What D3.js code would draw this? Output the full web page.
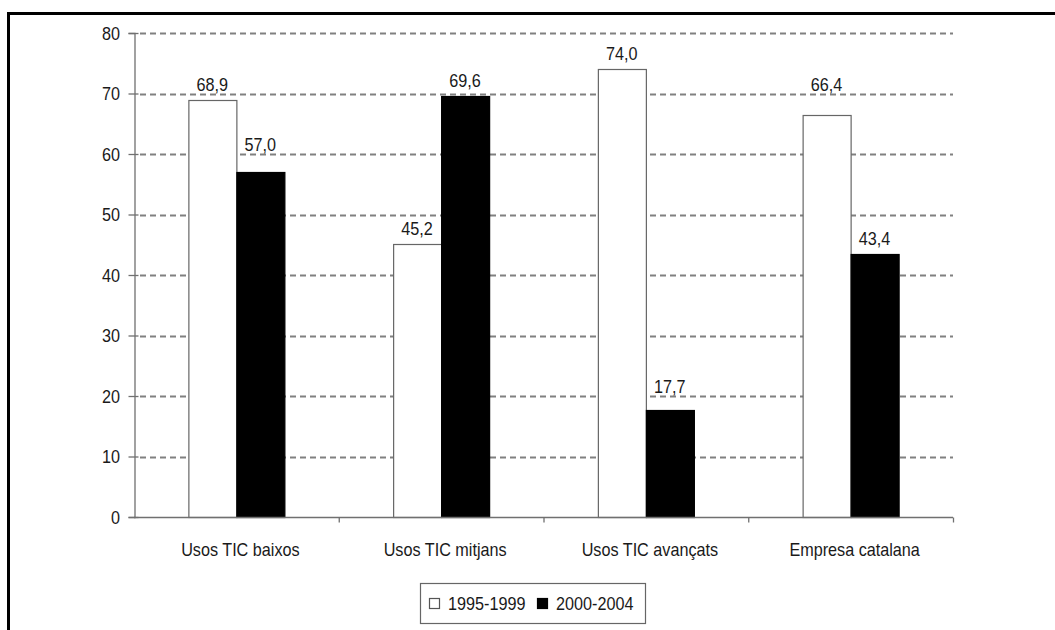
<!DOCTYPE html>
<html>
<head>
<meta charset="utf-8">
<script src="https://cdn.jsdelivr.net/npm/d3@7"></script>
<style>
  html, body { margin: 0; padding: 0; background: #fff; }
  svg text { font-family: "Liberation Sans", Arial, sans-serif; fill: #1a1a1a; }
</style>
</head>
<body>
<svg id="chart" width="1055" height="630"></svg>
<script>
// Percentages per group of firms, two periods
const categories = ["Usos TIC baixos", "Usos TIC mitjans", "Usos TIC avançats", "Empresa catalana"];
const seriesNames = ["1995-1999", "2000-2004"];
const values1995 = [68.9, 45.2, 74.0, 66.4];
const values2000 = [57.0, 69.6, 17.7, 43.4];
const yTicks = [0, 10, 20, 30, 40, 50, 60, 70, 80];

const fmt = v => v.toFixed(1).replace(".", ",");
const fills = ["#ffffff", "#000000"];
const FONT = 18, SX = 0.9;   // condensed lettering

const svg = d3.select("#chart");
const margin = { left: 134, right: 1055 - 953, top: 33, bottom: 630 - 517 };
const width = 1055, height = 630;

// Condensed text helper: a group carries the position and the horizontal squeeze
function label(parent, x, yPos, txt, anchor) {
  const g = parent.append("g").attr("transform", `translate(${x},${yPos}) scale(${SX},1)`);
  g.append("text").attr("text-anchor", anchor || "middle").attr("font-size", FONT).text(txt);
  return g;
}

// Frame: heavy rule along the top and left edges
svg.append("line").attr("x1", 7).attr("x2", width).attr("y1", 13.5).attr("y2", 13.5)
  .attr("stroke", "#000").attr("stroke-width", 3);
svg.append("line").attr("x1", 8.5).attr("x2", 8.5).attr("y1", 12).attr("y2", height)
  .attr("stroke", "#000").attr("stroke-width", 3);

const x0 = d3.scaleBand().domain(categories).range([margin.left, width - margin.right]);
const x1 = d3.scaleBand().domain(seriesNames).range([0, 96]);
const y = d3.scaleLinear().domain([0, 80]).range([height - margin.bottom, margin.top]);
const gridY = d => Math.round(y(d)) + 0.5;

// Dashed gridlines
svg.append("g").selectAll("line").data(yTicks.filter(t => t > 0)).join("line")
  .attr("x1", margin.left + 6).attr("x2", width - margin.right)
  .attr("y1", gridY).attr("y2", gridY)
  .attr("stroke", "#808080").attr("stroke-width", 2).attr("stroke-dasharray", "6,4");

// Bars
const rows = categories.map((c, i) => [
  { s: seriesNames[0], v: values1995[i] },
  { s: seriesNames[1], v: values2000[i] }
]);

const groups = svg.append("g").selectAll("g").data(categories).join("g")
  .attr("transform", d => `translate(${x0(d) + x0.bandwidth() / 2 - 48},0)`);

groups.selectAll("rect").data((d, i) => rows[i]).join("rect")
  .attr("x", d => x1(d.s) + 0.5)
  .attr("width", x1.bandwidth())
  .attr("y", d => Math.round(y(d.v)) + 0.5)
  .attr("height", d => y(0) - Math.round(y(d.v)))
  .attr("fill", (d, j) => fills[j])
  .attr("stroke", (d, j) => j === 0 ? "#666" : "#000")
  .attr("stroke-width", 1.2);

// Value labels sit above the bar; when a label would straddle a gridline it is lifted above it
function labelBaseline(v) {
  let base = y(v) - 9;
  yTicks.forEach(t => {
    const gy = gridY(t);
    if (gy >= base - 14 && gy <= base + 1) base = gy - 4;
  });
  return base;
}
groups.each(function (d, i) {
  const g = d3.select(this);
  rows[i].forEach(r => label(g, x1(r.s) + x1.bandwidth() / 2, labelBaseline(r.v), fmt(r.v)));
});

// Y axis
const yAxis = svg.append("g").attr("transform", `translate(${margin.left + 0.5},0)`)
  .call(d3.axisLeft(y).tickValues(yTicks).tickSize(6).tickFormat(""));
yAxis.attr("font-family", null);
yAxis.select(".domain").attr("stroke", "#707070").attr("stroke-width", 1.3);
yAxis.selectAll(".tick line").attr("stroke", "#707070").attr("stroke-width", 1.3).attr("x1", 4).attr("x2", -6);
yTicks.forEach(t => label(svg, margin.left - 14, y(t) + 6.5, String(t), "end"));

// X axis with ticks on category boundaries
const xAxisG = svg.append("g").attr("transform", `translate(0,${y(0) + 0.5})`);
xAxisG.append("line").attr("x1", margin.left).attr("x2", width - margin.right)
  .attr("stroke", "#707070").attr("stroke-width", 1.3);
const bounds = categories.map(c => x0(c) + x0.bandwidth());
xAxisG.selectAll("line.tk").data(bounds).join("line").attr("class", "tk")
  .attr("x1", d => d + 0.5).attr("x2", d => d + 0.5).attr("y1", 0).attr("y2", 5)
  .attr("stroke", "#707070").attr("stroke-width", 1.3);
categories.forEach(c => label(xAxisG, x0(c) + x0.bandwidth() / 2 + 4, 38, c));

// Legend
const legend = svg.append("g");
legend.append("rect").attr("x", 420.5).attr("y", 583.5).attr("width", 225).attr("height", 40)
  .attr("fill", "#fff").attr("stroke", "#666").attr("stroke-width", 1.2);
const legendPos = [429, 537];
seriesNames.forEach((s, i) => {
  legend.append("rect").attr("x", legendPos[i] + 0.5).attr("y", 598.5).attr("width", 10).attr("height", 10)
    .attr("fill", fills[i]).attr("stroke", i === 0 ? "#555" : "#000").attr("stroke-width", 1.2);
  label(legend, legendPos[i] + 19, 610, s, "start");
});
</script>
</body>
</html>
